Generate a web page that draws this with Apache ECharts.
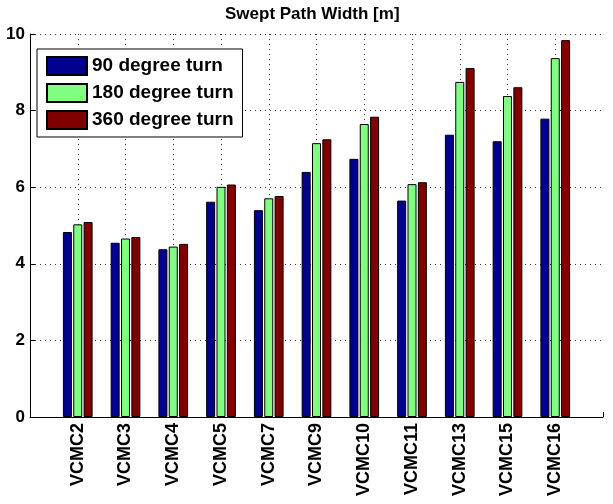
<!DOCTYPE html>
<html>
<head>
<meta charset="utf-8">
<script src="https://cdn.jsdelivr.net/npm/echarts@6/dist/echarts.min.js"></script>
<style>
html,body{margin:0;padding:0;background:#fff;}
#chart{width:613px;height:504px;}
</style>
</head>
<body>
<div id="chart"></div>
<script>
const categories = ['VCMC2','VCMC3','VCMC4','VCMC5','VCMC7','VCMC9','VCMC10','VCMC11','VCMC13','VCMC15','VCMC16'];
const seriesNames = ['90 degree turn','180 degree turn','360 degree turn'];
const turn90  = [4.83, 4.55, 4.38, 5.62, 5.40, 6.40, 6.74, 5.65, 7.37, 7.20, 7.79];
const turn180 = [5.03, 4.66, 4.45, 6.01, 5.71, 7.15, 7.65, 6.08, 8.75, 8.38, 9.37];
const turn360 = [5.09, 4.70, 4.52, 6.07, 5.77, 7.25, 7.84, 6.13, 9.11, 8.61, 9.84];
const yTicks = [0, 2, 4, 6, 8, 10];

const FONT = "'Liberation Sans', Arial, sans-serif";
const colors = ['#00008F', '#80FF80', '#800000'];
const values = [turn90, turn180, turn360];

const chart = echarts.init(document.getElementById('chart'), null, {renderer: 'canvas'});
const dotted = {color: '#333', width: 1, type: [1, 4]};

chart.setOption({
  backgroundColor: '#fff',
  animation: false,
  title: {
    text: 'Swept Path Width [m]',
    left: 220, top: 1,
    textStyle: {fontFamily: FONT, fontWeight: 'bold', fontSize: 17, color: '#000'}
  },
  legend: {
    left: 37, top: 49,
    orient: 'vertical',
    itemWidth: 40, itemHeight: 18, itemGap: 7,
    padding: [7, 9, 7, 9],
    backgroundColor: '#fff',
    borderColor: '#000', borderWidth: 1,
    borderRadius: 0,
    textStyle: {fontFamily: FONT, fontWeight: 'bold', fontSize: 19, color: '#000'},
    data: seriesNames.map(n => ({name: n, icon: 'rect'}))
  },
  grid: {left: 30, right: 10, top: 34, bottom: 87, containLabel: false},
  xAxis: {
    type: 'value', min: 0, max: 12, interval: 1,
    axisLine: {show: true, onZero: false, lineStyle: {color: '#000', width: 1}},
    axisTick: {show: true, inside: true, length: 5, lineStyle: {color: '#000'}},
    axisLabel: {
      rotate: 90, margin: 6,
      fontFamily: FONT, fontWeight: 'bold', fontSize: 18, color: '#000',
      formatter: v => (v >= 1 && v <= categories.length) ? categories[v - 1] : ''
    },
    splitLine: {show: true, showMinLine: false, showMaxLine: false, lineStyle: dotted}
  },
  yAxis: {
    type: 'value', min: yTicks[0], max: yTicks[yTicks.length - 1], interval: 2,
    axisLine: {show: true, lineStyle: {color: '#000', width: 1}},
    axisTick: {show: true, inside: true, length: 5, lineStyle: {color: '#000'}},
    axisLabel: {margin: 5, fontFamily: FONT, fontWeight: 'bold', fontSize: 17, color: '#000'},
    splitLine: {show: true, showMinLine: false, lineStyle: dotted}
  },
  series: seriesNames.map((name, k) => ({
    name: name,
    type: 'bar',
    barWidth: 9,
    barGap: '15%',
    itemStyle: {color: colors[k], borderColor: '#000', borderWidth: 1},
    data: categories.map((c, i) => [i + 1, values[k][i]])
  }))
});
</script>
</body>
</html>
